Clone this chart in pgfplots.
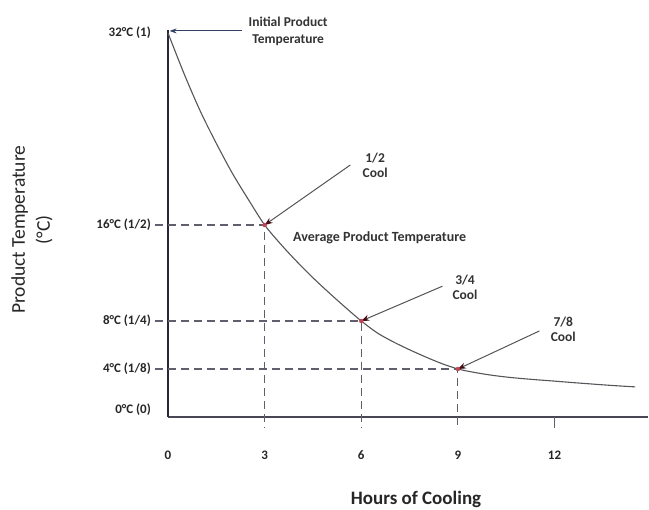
\documentclass[border=0pt]{standalone}
\usepackage{pgfplots}
\pgfplotsset{compat=1.18}
\usepackage{fontspec}
\setmainfont{Carlito}
\usetikzlibrary{arrows.meta}
\definecolor{axiscol}{RGB}{40,40,55}
\definecolor{curvecol}{RGB}{85,85,90}
\definecolor{dashcol}{RGB}{95,95,110}
\definecolor{headcol}{RGB}{70,10,20}
\definecolor{dotcol}{RGB}{190,70,80}
\definecolor{initcol}{RGB}{50,65,100}
\begin{document}
\begin{tikzpicture}
\useasboundingbox (0pt,0pt) rectangle (649pt,510pt);
\begin{axis}[
  at={(168pt,93pt)}, anchor=south west,
  scale only axis, width=480pt, height=387pt,
  xmin=0, xmax=14.9, ymin=0, ymax=32.25,
  axis lines=left, axis line style={-},
  x axis line style={draw=axiscol!85, line width=1.2pt},
  y axis line style={draw=axiscol, line width=1.5pt},
  clip=false,
  major tick length=0pt,
  xtick={0,3,6,9,12},
  ytick={0.6,4,8,16,32},
  yticklabels={0°C (0),4°C (1/8),8°C (1/4),16°C (1/2),32°C (1)},
  tick style={draw=none},
  /pgf/number format/assume math mode=true,
  xticklabel style={anchor=center, inner sep=0pt, yshift=-38pt, font=\fontsize{13}{15}\selectfont\bfseries, text=black!85},
  yticklabel style={anchor=east, inner sep=0pt, xshift=-17pt, font=\fontsize{13}{15}\selectfont\bfseries, text=black!85},
  xlabel={Hours of Cooling},
  xlabel style={at={(axis cs:7.7,-6.9)}, anchor=center, font=\fontsize{19}{22}\selectfont\bfseries, text=black!85},
  ylabel={Product Temperature\\(°C)},
  ylabel style={at={(axis cs:-4.22,15.6)}, anchor=center, align=center, font=\fontsize{19.5}{25}\selectfont, text=black!85},
]
% guides
\draw[dashcol, line width=1.1pt, dash pattern=on 8pt off 5pt] (axis cs:-0.4,16) -- (axis cs:3,16) -- (axis cs:3,-0.92);
\draw[dashcol, line width=1.1pt, dash pattern=on 8pt off 5pt] (axis cs:-0.4,8) -- (axis cs:6,8) -- (axis cs:6,-0.92);
\draw[dashcol, line width=1.1pt, dash pattern=on 8pt off 5pt] (axis cs:-0.4,4) -- (axis cs:9,4) -- (axis cs:9,-0.92);
\draw[dashcol, line width=1.1pt] (axis cs:12,0) -- (axis cs:12,-0.92);
% cooling curve
\addplot[curvecol, line width=1.1pt, smooth, tension=0.5] coordinates {
 (0,32) (0.5,28.6) (1,25.5) (1.5,22.8) (2,20.3) (2.5,18.1) (3,16)
 (3.5,14.4) (4,12.95) (4.5,11.6) (5,10.35) (5.5,9.15) (6,8)
 (6.5,7.0) (7,6.25) (7.5,5.6) (8,5.0) (8.5,4.45) (9,4.0)
 (9.5,3.72) (10,3.5) (10.5,3.33) (11,3.2) (11.5,3.09) (12,2.99)
 (12.5,2.88) (13,2.78) (13.5,2.68) (14,2.59) (14.5,2.51)
};
\addplot[only marks, mark=*, mark size=2pt, dotcol] coordinates {(3,16) (6,8) (9,4)};
% arrows
\draw[initcol, line width=1pt, -{Stealth[length=7pt,width=5pt]}] (axis cs:2.3,32.17) -- (axis cs:0.05,32.17);
\draw[curvecol, line width=1pt, -{Stealth[length=8pt,width=6pt,color=headcol]}] (axis cs:5.66,21) -- (axis cs:3,16);
\draw[curvecol, line width=1pt, -{Stealth[length=8pt,width=6pt,color=headcol]}] (axis cs:8.52,10.9) -- (axis cs:6,8);
\draw[curvecol, line width=1pt, -{Stealth[length=8pt,width=6pt,color=headcol]}] (axis cs:11.53,7.17) -- (axis cs:9,4);
% annotations
\node[align=center, font=\fontsize{13.5}{17}\selectfont\bfseries, text=black!80] at (axis cs:3.73,32.17) {Initial Product\\Temperature};
\node[align=center, font=\fontsize{13.5}{15}\selectfont\bfseries, text=black!80] at (axis cs:6.43,21) {1/2\\Cool};
\node[align=center, font=\fontsize{13.5}{15}\selectfont\bfseries, text=black!80] at (axis cs:9.22,10.83) {3/4\\Cool};
\node[align=center, font=\fontsize{13.5}{15}\selectfont\bfseries, text=black!80] at (axis cs:12.27,7.33) {7/8\\Cool};
\node[anchor=west, inner sep=0pt, font=\fontsize{14}{15}\selectfont\bfseries, text=black!80] at (axis cs:3.88,14.9) {Average Product Temperature};
\end{axis}
\end{tikzpicture}
\end{document}
